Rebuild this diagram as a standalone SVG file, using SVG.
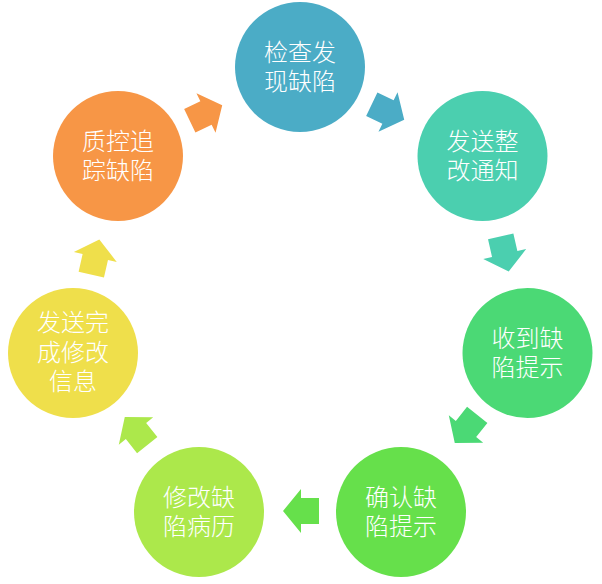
<svg xmlns="http://www.w3.org/2000/svg" width="602" height="584" viewBox="0 0 602 584">
<defs>
<style>
.t{font-family:"Microsoft YaHei","Noto Sans CJK SC",sans-serif;font-size:24px;font-weight:300;fill:#fff;text-anchor:middle}
</style>
<polygon id="arr" points="-18,-13 0,-13 0,-22 18,0 0,22 0,13 -18,13"/>
</defs>
<rect width="602" height="584" fill="#fff"/>
<g id="connectors">
<use href="#arr" fill="#4BACC6" transform="translate(388,112) rotate(25.71)"/>
<use href="#arr" fill="#4BCFAF" transform="translate(504.7,254) rotate(77.14)"/>
<use href="#arr" fill="#4BD975" transform="translate(466,429) rotate(128.57)"/>
<use href="#arr" fill="#66E04B" transform="translate(301,511) rotate(180)"/>
<use href="#arr" fill="#ACE84B" transform="translate(136,431) rotate(231.43)"/>
<use href="#arr" fill="#EFDF4B" transform="translate(95.3,257) rotate(282.86)"/>
<use href="#arr" fill="#F79646" transform="translate(206,113) rotate(334.29)"/>
</g>
<g id="n1"><circle cx="300" cy="67" r="65" fill="#4BACC6"/><text class="t" x="300" y="61">检查发<tspan x="300" dy="29">现缺陷</tspan></text></g>
<g id="n2"><circle cx="482.5" cy="156" r="65" fill="#4BCFAF"/><text class="t" x="482.5" y="150">发送整<tspan x="482.5" dy="29">改通知</tspan></text></g>
<g id="n3"><circle cx="527.5" cy="353" r="65" fill="#4BD975"/><text class="t" x="527.5" y="347">收到缺<tspan x="527.5" dy="29">陷提示</tspan></text></g>
<g id="n4"><circle cx="401" cy="512" r="65" fill="#66E04B"/><text class="t" x="401" y="506">确认缺<tspan x="401" dy="29">陷提示</tspan></text></g>
<g id="n5"><circle cx="199" cy="512" r="65" fill="#ACE84B"/><text class="t" x="199" y="506">修改缺<tspan x="199" dy="29">陷病历</tspan></text></g>
<g id="n6"><circle cx="73" cy="353" r="65" fill="#EFDF4B"/><text class="t" x="73" y="331">发送完<tspan x="73" dy="30">成修改</tspan><tspan x="73" dy="29">信息</tspan></text></g>
<g id="n7"><circle cx="118" cy="156" r="65" fill="#F79646"/><text class="t" x="118" y="150">质控追<tspan x="118" dy="29">踪缺陷</tspan></text></g>
</svg>
